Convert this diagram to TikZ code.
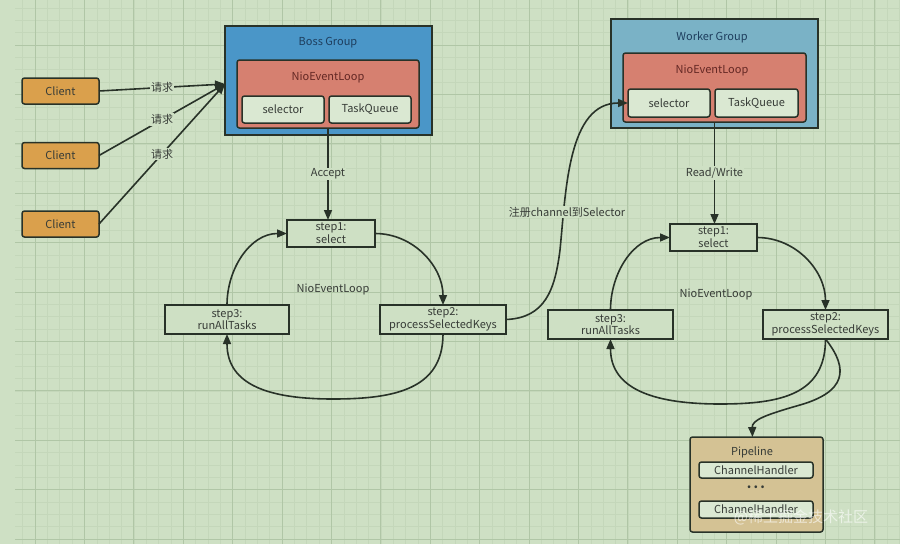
\documentclass[tikz,border=0pt]{standalone}
\usepackage{fontspec}
\setmainfont{Noto Sans CJK SC}
\usetikzlibrary{arrows.meta,calc}
\definecolor{bg}{RGB}{206,224,196}
\definecolor{gridminor}{RGB}{196,215,186}
\definecolor{gridmajor}{RGB}{176,198,166}
\definecolor{edge}{RGB}{40,50,40}
\definecolor{txt}{RGB}{55,60,55}
\definecolor{bossblue}{RGB}{74,150,200}
\definecolor{workblue}{RGB}{122,178,198}
\definecolor{loopred}{RGB}{214,128,112}
\definecolor{inner}{RGB}{218,232,210}
\definecolor{clientc}{RGB}{218,160,76}
\definecolor{pipec}{RGB}{212,194,148}
\definecolor{grptxt}{RGB}{30,62,94}
\definecolor{looptxt}{RGB}{100,40,36}
\begin{document}
\begin{tikzpicture}[x=1pt,y=-1pt,
  font=\fontsize{11}{12.8}\selectfont,
  box/.style={draw=edge, line width=1.5pt, inner sep=0pt, outer sep=0pt, text=txt},
  rbox/.style={box, rounded corners=2.5pt},
  stepbox/.style={box, fill=bg, align=center},
  lbl/.style={fill=bg, inner sep=1.2pt, text=txt},
  plain/.style={text=txt, inner sep=0pt},
  arr/.style={draw=edge, line width=1.6pt, -{Triangle[length=10pt,width=8pt]}}]
\useasboundingbox (0,0) rectangle (900,544);
\fill[bg] (0,0) rectangle (900,544);
\begin{scope}
\clip (15,0) rectangle (900,544);
\foreach \i in {-2,...,70} \draw[gridminor, line width=0.5pt] ({35+\i*12.35},0) -- ({35+\i*12.35},544);
\foreach \j in {-4,...,42} \draw[gridminor, line width=0.5pt] (15,{45+\j*12.35}) -- (900,{45+\j*12.35});
\foreach \i in {0,...,18} \draw[gridmajor, line width=0.7pt] ({35+\i*49.4},0) -- ({35+\i*49.4},544);
\foreach \j in {-1,...,10} \draw[gridmajor, line width=0.7pt] (15,{45+\j*49.4}) -- (900,{45+\j*49.4});
\end{scope}

% Boss group
\node[box, fill=bossblue, minimum width=207, minimum height=109] (boss) at (328.5,80.5) {};
\node[plain, text=grptxt] (bosslbl) at (328,43) {Boss Group};
\node[rbox, fill=loopred, minimum width=182, minimum height=68] (bossloop) at (328,94) {};
\node[plain, text=looptxt] (bossnel) at (328,77) {NioEventLoop};
\node[rbox, fill=inner, minimum width=82, minimum height=27] (bosssel) at (283,109.5) {selector};
\node[rbox, fill=inner, minimum width=82, minimum height=27] (bosstq) at (370,109.5) {TaskQueue};

% Clients
\node[rbox, fill=clientc, minimum width=77, minimum height=26] (c1) at (60.5,91) {Client};
\node[rbox, fill=clientc, minimum width=77, minimum height=26] (c2) at (60.5,155.5) {Client};
\node[rbox, fill=clientc, minimum width=77, minimum height=26] (c3) at (60.5,224) {Client};
\coordinate (bin) at (225,84);
\draw[arr] (c1.east) -- node[lbl, pos=0.5] {请求} (bin);
\draw[arr] (c2.east) -- node[lbl, pos=0.5] {请求} (bin);
\draw[arr] (c3.east) -- node[lbl, pos=0.5] {请求} (bin);

% Left loop
\node[stepbox, minimum width=88, minimum height=27] (s1L) at (331,233.5) {step1:\\select};
\node[stepbox, minimum width=124, minimum height=29] (s3L) at (227,319.5) {step3:\\runAllTasks};
\node[stepbox, minimum width=126, minimum height=29] (s2L) at (443,319.5) {step2:\\processSelectedKeys};
\node[plain] (nelL) at (333,289) {NioEventLoop};
\coordinate (botL) at (333,399);
\draw[arr] (bossloop.south) -- node[lbl] {Accept} (bossloop.south |- s1L.north);
\draw[arr] (s1L.east) to[out=0,in=90] (s2L.north);
\draw[arr] (s2L.south) .. controls +(0,55) and +(62,0) .. (botL) .. controls +(-62,0) and +(0,52) .. (s3L.south);
\draw[arr] (s3L.north) to[out=90,in=180] (s1L.west);

% Worker group
\node[box, fill=workblue, minimum width=207, minimum height=109] (work) at (714.5,73.5) {};
\node[plain, text=grptxt] (worklbl) at (712,37) {Worker Group};
\node[rbox, fill=loopred, minimum width=183, minimum height=69] (workloop) at (714.5,87.5) {};
\node[plain, text=looptxt] (worknel) at (712,70) {NioEventLoop};
\node[rbox, fill=inner, minimum width=82, minimum height=28] (worksel) at (669,103) {selector};
\node[rbox, fill=inner, minimum width=83, minimum height=28] (worktq) at (756.5,103) {TaskQueue};

% Right loop
\node[stepbox, minimum width=87, minimum height=27] (s1R) at (713.5,237.5) {step1:\\select};
\node[stepbox, minimum width=125, minimum height=29] (s3R) at (610.5,324.5) {step3:\\runAllTasks};
\node[stepbox, minimum width=125, minimum height=29] (s2R) at (825.5,324.5) {step2:\\processSelectedKeys};
\node[plain] (nelR) at (716,294) {NioEventLoop};
\coordinate (botR) at (720,404);
\draw[arr] (workloop.south) -- node[lbl] {Read/Write} (workloop.south |- s1R.north);
\draw[arr] (s1R.east) to[out=0,in=90] (s2R.north);
\draw[arr] (s2R.south) .. controls +(0,55) and +(62,0) .. (botR) .. controls +(-62,0) and +(0,52) .. (s3R.south);
\draw[arr] (s3R.north) to[out=90,in=180] (s1R.west);

% Register channel
\coordinate (regmid) at (560,250);
\draw[arr] (s2L.east) .. controls (545,318) and (555,290) .. (regmid) .. controls (566,190) and (568,103) .. (worksel.west);
\node[lbl] (reglbl) at (567,212) {注册channel到Selector};

% Pipeline
\node[rbox, fill=pipec, minimum width=133, minimum height=95] (pipe) at (756.5,484.5) {};
\node[plain] (pipelbl) at (752,452) {Pipeline};
\node[rbox, fill=inner, minimum width=114, minimum height=16] (ch1) at (756,470) {ChannelHandler};
\node[plain, font=\fontsize{13}{14}\selectfont\bfseries] (dots) at (756,487) {.\,.\,.};
\node[rbox, fill=inner, minimum width=114, minimum height=17] (ch2) at (756,509.5) {ChannelHandler};
\coordinate (pmid) at (800,405);
\draw[arr] (s2R.south) .. controls (850,370) and (845,392) .. (pmid) .. controls (765,415) and (752,420) .. ($(pipe.north)+(-4,0)$);

% watermark
\node[plain, text=white, opacity=0.6, font=\fontsize{15}{17}\selectfont] (wm) at (801,517) {@稀土掘金技术社区};
\end{tikzpicture}
\end{document}
